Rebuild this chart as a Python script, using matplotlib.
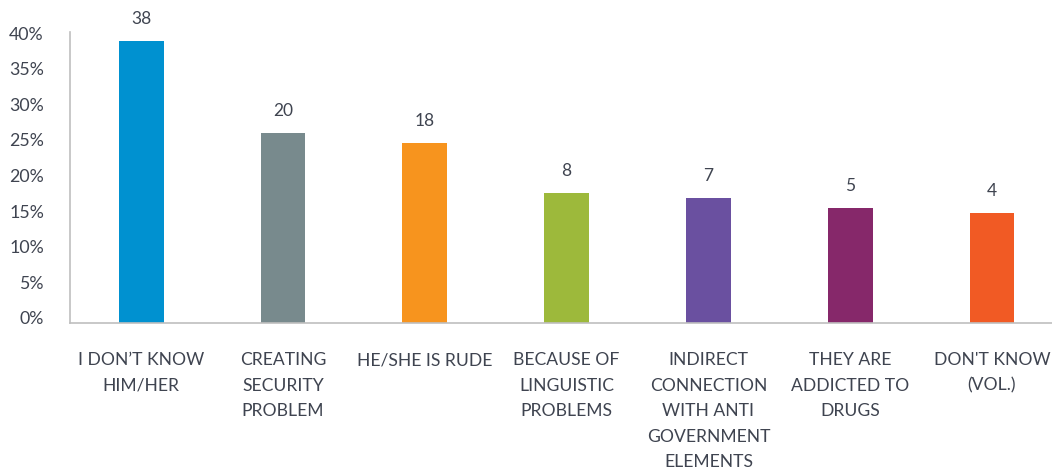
import matplotlib.pyplot as plt
import matplotlib.transforms as mtransforms
import numpy as np

# values shown on the chart and bar heights as drawn (in %)
cats = ["I DON\u2019T KNOW\nHIM/HER", "CREATING\nSECURITY\nPROBLEM", "HE/SHE IS RUDE",
        "BECAUSE OF\nLINGUISTIC\nPROBLEMS", "INDIRECT\nCONNECTION\nWITH ANTI\nGOVERNMENT\nELEMENTS",
        "THEY ARE\nADDICTED TO\nDRUGS", "DON'T KNOW\n(VOL.)"]
labels = [38, 20, 18, 8, 7, 5, 4]
heights = [39.6, 26.7, 25.3, 18.2, 17.5, 16.1, 15.4]
colors = ["#0091D0", "#788A8D", "#F7941E", "#9DB93B", "#6A50A0", "#86286A", "#F15A24"]
yticks = [0, 5, 10, 15, 20, 25, 30, 35, 40]

plt.rcParams['font.family'] = ['Lato', 'DejaVu Sans']
txt = "#3F4450"

fig = plt.figure(figsize=(10.52, 4.68), dpi=100)
ax = fig.add_axes([70.3/1052, 1-323/468, 992.6/1052, 291.3/468])

x = np.arange(len(cats))
bars = ax.bar(x, heights, width=0.317, color=colors)
ax.bar_label(bars, labels=[str(v) for v in labels], padding=10, fontsize=12.5, color=txt)

ax.set_xlim(-0.5, len(cats) - 0.5)
ax.set_ylim(0, 40.9)
ax.set_yticks(yticks)
ax.set_yticklabels([f"{t}%" for t in yticks], fontsize=12.8, color=txt)
ax.set_xticks(x)
ax.set_xticklabels(cats, fontsize=12.6, color=txt, va="top", linespacing=1.73)
ax.tick_params(axis="y", length=0, pad=19)
ax.tick_params(axis="x", length=0, pad=21)

off = mtransforms.ScaledTranslation(0, 5/100, fig.dpi_scale_trans)
for lab in ax.get_yticklabels():
    lab.set_transform(lab.get_transform() + off)

for s in ["top", "right"]:
    ax.spines[s].set_visible(False)
for s in ["left", "bottom"]:
    ax.spines[s].set_color("#BFBFBF")
    ax.spines[s].set_linewidth(1.2)

fig.savefig("out.png", dpi=100)
